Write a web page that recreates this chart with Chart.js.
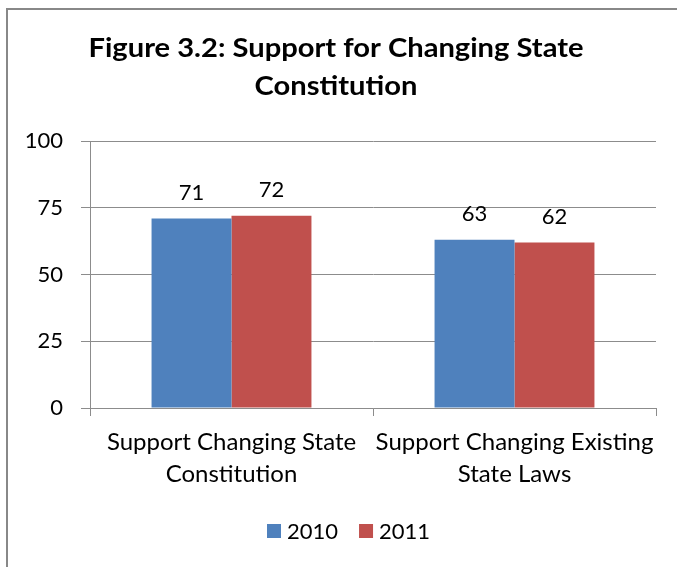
<!DOCTYPE html>
<html>
<head>
<meta charset="utf-8">
<script src="https://cdn.jsdelivr.net/npm/chart.js@4/dist/chart.umd.min.js"></script>
<style>
  html, body { margin: 0; padding: 0; background: #fff; }
  #wrap { position: relative; width: 677px; height: 567px; }
</style>
</head>
<body>
<div id="wrap"><canvas id="chart" width="677" height="567"></canvas></div>
<script>
// данные графика
const categories = [
  ['Support Changing State', 'Constitution'],
  ['Support Changing Existing', 'State Laws']
];
const seriesNames = ['2010', '2011'];
const values2010 = [71, 63];
const values2011 = [72, 62];
const yTicks = [0, 25, 50, 75, 100];
const titleLines = ['Figure 3.2: Support for Changing State', 'Constitution'];

const FONT = 'Lato, Carlito, Calibri, "Open Sans", sans-serif';
const GRID = '#8c8c8c';

// рамка, заголовок, подписи значений и легенда
const decor = {
  id: 'decor',
  beforeDraw(chart) {
    const ctx = chart.ctx;
    ctx.save();
    ctx.fillStyle = '#fff';
    ctx.fillRect(0, 0, chart.width, chart.height);
    ctx.strokeStyle = '#888';
    ctx.lineWidth = 2;
    ctx.beginPath();
    ctx.moveTo(7, chart.height);
    ctx.lineTo(7, 9);
    ctx.lineTo(chart.width, 9);
    ctx.stroke();
    ctx.restore();
  },
  afterDraw(chart) {
    const ctx = chart.ctx;
    ctx.save();
    ctx.fillStyle = '#000';
    ctx.textAlign = 'center';

    // заголовок (ширина подогнана под оригинал)
    ctx.textBaseline = 'alphabetic';
    ctx.font = 'bold 27px ' + FONT;
    const sx = 495 / ctx.measureText(titleLines[0]).width;
    ctx.save();
    ctx.translate(336, 0);
    ctx.scale(sx, 1);
    ctx.fillText(titleLines[0], 0, 57);
    ctx.fillText(titleLines[1], 0, 95);
    ctx.restore();

    // подписи значений над столбцами
    ctx.textBaseline = 'middle';
    ctx.font = '22px ' + FONT;
    chart.data.datasets.forEach((ds, i) => {
      chart.getDatasetMeta(i).data.forEach((bar, j) => {
        ctx.fillText(String(ds.data[j]), bar.x, bar.y - 26);
      });
    });

    // легенда
    let x = 267;
    const y = 531;
    chart.data.datasets.forEach(ds => {
      ctx.fillStyle = ds.backgroundColor;
      ctx.fillRect(x, y - 7, 14, 14);
      ctx.fillStyle = '#000';
      ctx.textAlign = 'left';
      ctx.fillText(ds.label, x + 20, y + 1);
      x += 20 + ctx.measureText(ds.label).width + 21;
    });
    ctx.restore();
  }
};

new Chart(document.getElementById('chart'), {
  type: 'bar',
  data: {
    labels: categories,
    datasets: [
      { label: seriesNames[0], data: values2010, backgroundColor: '#4F81BD' },
      { label: seriesNames[1], data: values2011, backgroundColor: '#C0504D' }
    ]
  },
  options: {
    responsive: false,
    animation: false,
    events: [],
    layout: { padding: { left: 0, right: 21, top: 141, bottom: 69 } },
    datasets: { bar: { categoryPercentage: 0.565, barPercentage: 1.0 } },
    plugins: {
      legend: { display: false },
      title: { display: false },
      tooltip: { enabled: false }
    },
    scales: {
      x: {
        offset: true,
        grid: { offset: true, drawOnChartArea: false, drawTicks: true, tickLength: 8, color: GRID },
        border: { color: GRID, width: 1 },
        ticks: { color: '#000', font: { family: FONT, size: 24, lineHeight: 1.3 }, padding: 11, maxRotation: 0, autoSkip: false },
        afterFit(scale) { scale.height = 90; }
      },
      y: {
        min: 0,
        max: 100,
        afterBuildTicks(scale) { scale.ticks = yTicks.map(v => ({ value: v })); },
        grid: { color: GRID, tickLength: 9 },
        border: { color: GRID, width: 1 },
        ticks: { color: '#000', font: { family: FONT, size: 22 }, padding: 18 },
        afterFit(scale) { scale.width = 90; }
      }
    }
  },
  plugins: [decor]
});
</script>
</body>
</html>
